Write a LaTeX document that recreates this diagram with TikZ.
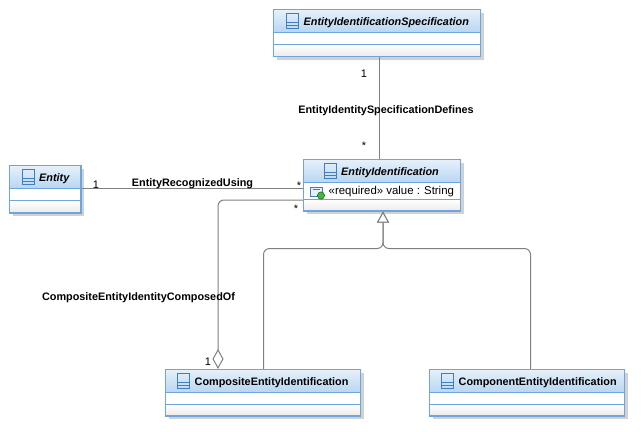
\documentclass[tikz,border=0pt]{standalone}
\usepackage{fontspec}
\setmainfont{Liberation Sans}
\usetikzlibrary{arrows.meta,calc}
\definecolor{boxline}{HTML}{6FA5DC}
\definecolor{headtop}{HTML}{E6F1FB}
\definecolor{headbot}{HTML}{B9D6F2}
\definecolor{conn}{HTML}{808080}
\definecolor{iconblue}{HTML}{3F7FBF}
\tikzset{
  umlframe/.style={draw=boxline,line width=1.1pt,inner sep=0pt,rectangle},
  conline/.style={draw=conn,line width=1pt,rounded corners=6pt},
  title/.style={font=\fontsize{10.85}{12}\selectfont\bfseries,text=black,inner sep=0pt,anchor=west},
  ititle/.style={title,font=\fontsize{10.85}{12}\selectfont\bfseries\itshape},
  lab/.style={font=\fontsize{10.85}{12}\selectfont\bfseries,text=black,inner sep=0pt},
  mult/.style={font=\fontsize{11}{12}\selectfont,text=black,inner sep=0pt},
}
% name, x0, y0, x1, y1, header bottom, compartment line, title x, title style (title in \titletext)
\newcommand{\umlbox}[9]{%
  \fill[black!18] (#2+3,#3+3) rectangle (#4+3,#5+3);
  \fill[white] (#2,#3) rectangle (#4,#5);
  \shade[top color=headtop,bottom color=headbot] (#2,#3) rectangle (#4,#6);
  \shade[top color=white,bottom color=black!8] (#2,#7) rectangle (#4,#5);
  \draw[boxline,line width=1pt] (#2,#6) -- (#4,#6) (#2,#7) -- (#4,#7);
  \node[umlframe,minimum width=#4pt-#2pt,minimum height=#5pt-#3pt] (#1) at ({(#2+#4)/2},{(#3+#5)/2}) {};
  \begin{scope}[shift={(#8-17,#3+4)},iconblue,line width=0.8pt]
    \draw (0,0) rectangle (12,14.5);
    \draw (0,8.5) -- (12,8.5) (0,12) -- (12,12);
  \end{scope}
  \node[#9] at (#8,{(#3+#6)/2+1.7}) {\titletext};
}
\begin{document}
\begin{tikzpicture}[x=1pt,y=-1pt]
\useasboundingbox (0,0) rectangle (644,431);
\fill[white] (0,0) rectangle (644,431);

\def\titletext{EntityIdentificationSpecification}
\umlbox{spec}{273.5}{9.5}{480.5}{56.5}{32}{44}{303.5}{ititle}
\def\titletext{EntityIdentification}
\umlbox{ident}{303.5}{159.5}{460.5}{211}{182}{199.5}{341}{ititle}
\def\titletext{Entity}
\umlbox{entity}{9.5}{165.5}{81}{213}{188}{200.5}{39}{ititle}
\def\titletext{CompositeEntityIdentification}
\umlbox{composite}{165.5}{369.5}{360.5}{416}{392}{404}{194.5}{title}
\def\titletext{ComponentEntityIdentification}
\umlbox{component}{429.5}{369.5}{624.5}{416}{392}{404}{458.5}{title}

% attribute row
\node[font=\fontsize{11.4}{12}\selectfont,text=black,inner sep=0pt,anchor=west] (attr) at (328.5,191.5) {«required» value : String};
\draw[iconblue,line width=0.8pt,fill=headtop] (310.5,187.5) rectangle (322,196);
\draw[iconblue,line width=0.8pt] (312.5,189.5) -- (320,189.5);
\fill[green!55!black!70] (321,195.5) circle (3.6);
\draw[green!45!black,line width=0.5pt] (321,195.5) circle (3.6);

% connectors
\draw[conline] ([xshift=2.5pt]spec.south) -- ([xshift=-2.5pt]ident.north);
\draw[conline] ([yshift=1.25pt]entity.east) -- ([yshift=-2.75pt]ident.west);
\draw[conline,-{Diamond[open,fill=white,length=20pt,width=11pt,line width=1pt]}]
  ([yshift=-14.75pt]ident.west) -| ([xshift=-45pt]composite.north);
\draw[conline,-{Triangle[open,fill=white,length=11pt,width=12pt,line width=1pt]}]
  ([xshift=0.5pt]composite.north) |- ($(ident.south)+(1,37)$) -- ([xshift=1pt]ident.south);
\draw[conline,-{Triangle[open,fill=white,length=11pt,width=12pt,line width=1pt]}]
  ([xshift=3.5pt]component.north) |- ($(ident.south)+(1,37)$) -- ([xshift=1pt]ident.south);

% labels
\node[mult] (m1) at (364,74) {1};
\node[mult] (m2) at (364,146) {*};
\node[lab] (l1) at (386,110.5) {EntityIdentitySpecificationDefines};
\node[mult] (m3) at (96,185) {1};
\node[mult] (m4) at (299,186) {*};
\node[lab] (l2) at (192.5,184) {EntityRecognizedUsing};
\node[mult] (m5) at (296,209) {*};
\node[lab] (l3) at (138.5,297.5) {CompositeEntityIdentityComposedOf};
\node[mult] (m6) at (208,362) {1};
\end{tikzpicture}
\end{document}
